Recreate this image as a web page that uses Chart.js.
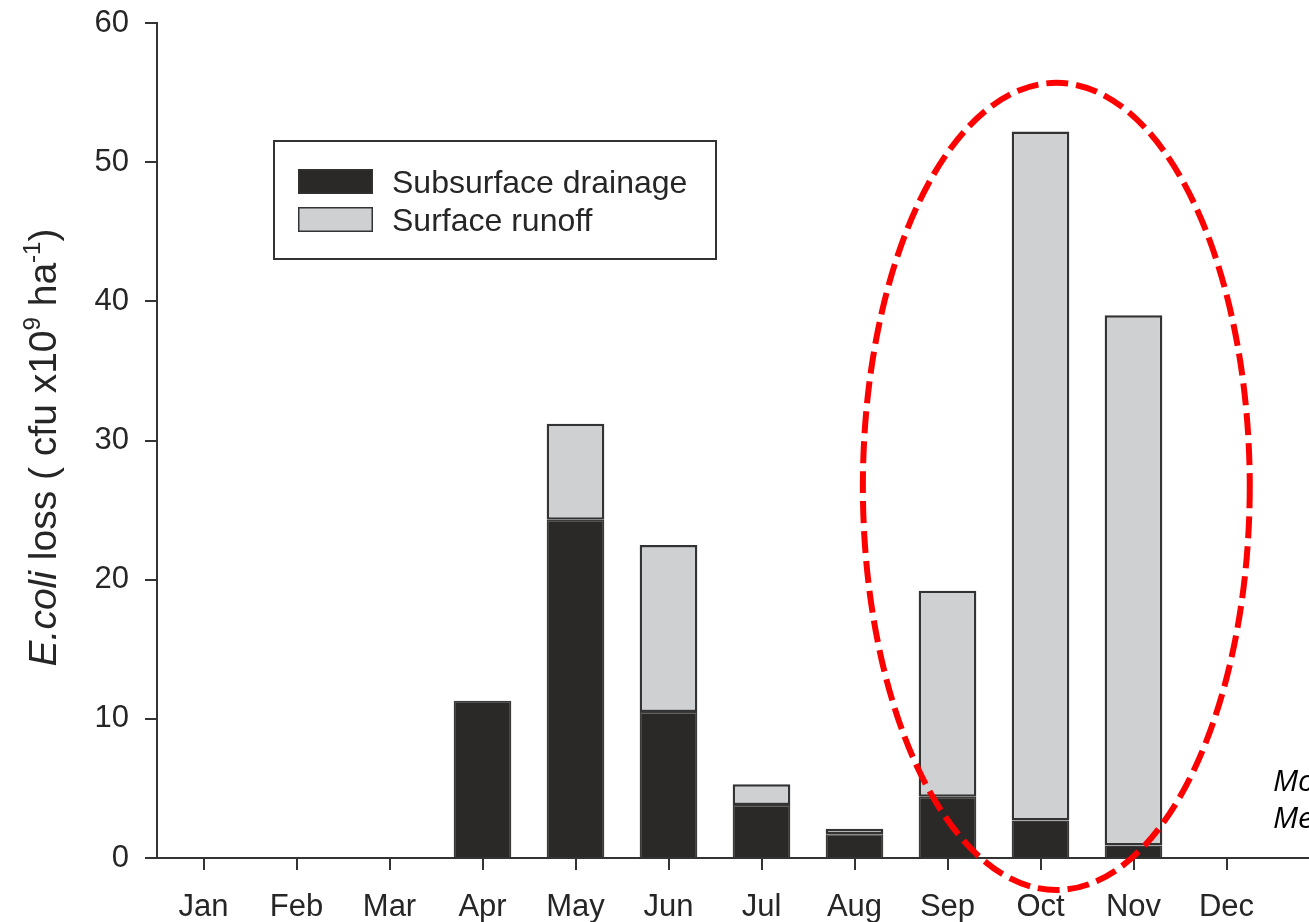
<!DOCTYPE html>
<html>
<head>
<meta charset="utf-8">
<script src="https://cdn.jsdelivr.net/npm/chart.js@4/dist/chart.umd.min.js"></script>
<style>
  html, body { margin: 0; padding: 0; background: #fff; }
  #wrap { width: 1309px; height: 922px; position: relative; }
</style>
</head>
<body>
<div id="wrap"><canvas id="c" width="1309" height="922"></canvas></div>
<script>
// Monthly E. coli loss (cfu x10^9 ha^-1), split by pathway
const months = ['Jan', 'Feb', 'Mar', 'Apr', 'May', 'Jun', 'Jul', 'Aug', 'Sep', 'Oct', 'Nov', 'Dec'];
const subsurfaceDrainage = [null, null, null, 11.3, 24.3, 10.5, 3.8, 1.7, 4.4, 2.7, 0.9, null];
const surfaceRunoff      = [null, null, null, null, 6.9, 12.0, 1.5, 0.4, 14.8, 49.5, 38.1, null];
const yTicks = [0, 10, 20, 30, 40, 50, 60];

const FONT = '"Liberation Sans", Arial, Helvetica, sans-serif';
const INK = '#262626';
const DARK = '#2a2927';
const LIGHT = '#cfd0d2';

// Axis title with italic genus name and superscripts, drawn rotated
const yTitlePlugin = {
  id: 'yTitle',
  afterDraw(chart) {
    const ctx = chart.ctx;
    const area = chart.chartArea;
    const size = 39, sup = 24;
    const parts = [
      { t: 'E.coli', f: `italic ${size}px ${FONT}`, dy: 0 },
      { t: ' loss ( cfu x10', f: `${size}px ${FONT}`, dy: 0 },
      { t: '9', f: `${sup}px ${FONT}`, dy: -16 },
      { t: ' ha', f: `${size}px ${FONT}`, dy: 0 },
      { t: '-1', f: `${sup}px ${FONT}`, dy: -16 },
      { t: ')', f: `${size}px ${FONT}`, dy: 0 }
    ];
    ctx.save();
    let total = 0;
    parts.forEach(p => { ctx.font = p.f; p.w = ctx.measureText(p.t).width; total += p.w; });
    const cy = (area.top + area.bottom) / 2 + 7;
    ctx.translate(56, cy);
    ctx.rotate(-Math.PI / 2);
    ctx.fillStyle = INK;
    ctx.textBaseline = 'alphabetic';
    ctx.textAlign = 'left';
    let x = -total / 2;
    parts.forEach(p => { ctx.font = p.f; ctx.fillText(p.t, x, p.dy); x += p.w; });
    ctx.restore();
  }
};

// Boxed legend inside the plot area, built from the datasets
const boxLegendPlugin = {
  id: 'boxLegend',
  afterDraw(chart) {
    const ctx = chart.ctx;
    ctx.save();
    ctx.strokeStyle = '#333';
    ctx.lineWidth = 2;
    ctx.strokeRect(274, 141, 442, 118);
    ctx.font = `32px ${FONT}`;
    ctx.textBaseline = 'alphabetic';
    ctx.textAlign = 'left';
    chart.data.datasets.forEach((ds, i) => {
      const top = 169 + i * 38;
      ctx.fillStyle = ds.backgroundColor;
      ctx.fillRect(298, top, 75, 25);
      ctx.lineWidth = 1.5;
      ctx.strokeStyle = '#333';
      ctx.strokeRect(298.75, top + 0.75, 73.5, 23.5);
      ctx.fillStyle = INK;
      ctx.fillText(ds.label, 392, top + 24);
    });
    ctx.restore();
  }
};

// Baseline extended across the full width, dashed red ellipse and side notes
const overlayPlugin = {
  id: 'overlay',
  afterDraw(chart) {
    const ctx = chart.ctx;
    const xs = chart.scales.x, ys = chart.scales.y;
    const y0 = ys.getPixelForValue(0);
    ctx.save();
    ctx.strokeStyle = '#333';
    ctx.lineWidth = 2;
    ctx.beginPath();
    ctx.moveTo(chart.chartArea.left, y0);
    ctx.lineTo(chart.width, y0);
    ctx.stroke();

    const cx = xs.getPixelForValue(9.17);
    const rx = xs.getPixelForValue(11.25) - cx;
    const cy = ys.getPixelForValue(26.7);
    const ry = cy - ys.getPixelForValue(55.7);
    ctx.strokeStyle = '#ff0000';
    ctx.lineWidth = 6;
    ctx.setLineDash([22, 8]);
    ctx.beginPath();
    ctx.ellipse(cx, cy, rx, ry, 0, 0, Math.PI * 2);
    ctx.stroke();
    ctx.setLineDash([]);

    ctx.fillStyle = '#000';
    ctx.font = `italic 30px "Open Sans", ${FONT}`;
    ctx.textAlign = 'left';
    ctx.textBaseline = 'alphabetic';
    ctx.fillText('Mo', 1273, 791);
    ctx.fillText('Me', 1273, 828);
    ctx.restore();
  }
};

new Chart(document.getElementById('c'), {
  type: 'bar',
  data: {
    labels: months,
    datasets: [
      {
        label: 'Subsurface drainage',
        data: subsurfaceDrainage,
        backgroundColor: DARK,
        borderColor: '#3a3a3a',
        borderWidth: 1.5,
        borderSkipped: 'start',
        barPercentage: 0.62,
        categoryPercentage: 1.0
      },
      {
        label: 'Surface runoff',
        data: surfaceRunoff,
        backgroundColor: LIGHT,
        borderColor: '#333',
        borderWidth: 2.5,
        borderSkipped: false,
        barPercentage: 0.62,
        categoryPercentage: 1.0
      }
    ]
  },
  options: {
    responsive: false,
    animation: false,
    devicePixelRatio: 1,
    layout: { padding: { top: 23, right: 36, left: 0, bottom: 0 } },
    plugins: {
      legend: { display: false },
      tooltip: { enabled: false },
      title: { display: false }
    },
    scales: {
      x: {
        stacked: true,
        offset: true,
        grid: {
          offset: false,
          drawOnChartArea: false,
          drawTicks: true,
          tickLength: 12,
          color: '#333',
          lineWidth: 2
        },
        border: { display: false },
        ticks: {
          color: INK,
          font: { family: FONT, size: 31 },
          padding: 19,
          maxRotation: 0,
          autoSkip: false
        },
        afterFit(s) { s.height = 64; s.paddingLeft = 0; s.paddingRight = 0; }
      },
      y: {
        stacked: true,
        min: 0,
        max: 60,
        afterBuildTicks(s) { s.ticks = yTicks.map(v => ({ value: v })); },
        grid: {
          drawOnChartArea: false,
          drawTicks: true,
          tickLength: 12,
          color: '#333',
          lineWidth: 2
        },
        border: { display: true, color: '#333', width: 2 },
        ticks: {
          color: INK,
          font: { family: FONT, size: 31 },
          padding: 16
        },
        afterFit(s) { s.width = 157; s.paddingTop = 0; s.paddingBottom = 0; }
      }
    }
  },
  plugins: [yTitlePlugin, boxLegendPlugin, overlayPlugin]
});
</script>
</body>
</html>
